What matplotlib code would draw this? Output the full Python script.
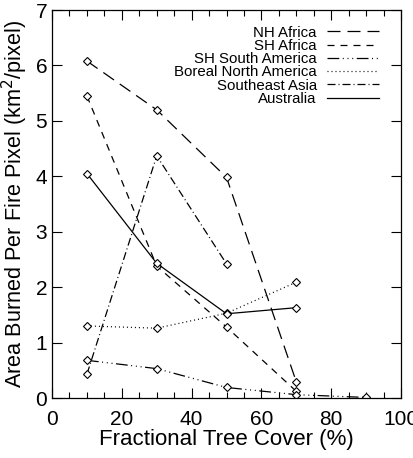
import matplotlib
matplotlib.use("Agg")
import matplotlib.pyplot as plt
from matplotlib.ticker import MultipleLocator
from matplotlib.transforms import ScaledTranslation

plt.rcParams['font.family'] = ['Liberation Sans', 'DejaVu Sans']

names = ["NH Africa", "SH Africa", "SH South America", "Boreal North America",
         "Southeast Asia", "Australia"]
x_nh = [10, 30, 50, 70]
y_nh = [6.08, 5.20, 3.98, 0.29]
x_sh = [10, 30, 50, 70]
y_sh = [5.45, 2.38, 1.28, 0.12]
x_sa = [10, 30, 50, 70, 90]
y_sa = [0.68, 0.53, 0.19, 0.06, 0.01]
x_bo = [10, 30, 50, 70]
y_bo = [1.30, 1.26, 1.53, 2.09]
x_se = [10, 30, 50]
y_se = [0.43, 4.37, 2.42]
x_au = [10, 30, 50, 70]
y_au = [4.05, 2.43, 1.52, 1.63]

styles = [(0, (10.4, 5.6)), (0, (5.6, 4.8)),
          (0, (9.4, 2.8, 0.8, 3.0, 0.8, 3.0, 0.8, 2.8)), (0, (0.8, 2.4)),
          (0, (6.4, 2.4, 0.8, 2.4)), '-']

fig = plt.figure(figsize=(4.13, 4.58), dpi=100)
ax = fig.add_axes([0.126, 0.131, 0.845, 0.847])

series = [(x_nh, y_nh), (x_sh, y_sh), (x_sa, y_sa), (x_bo, y_bo), (x_se, y_se), (x_au, y_au)]
for (xs, ys), name, ls in zip(series, names, styles):
    ax.plot(xs, ys, color='black', lw=0.9, linestyle=ls, label=name)
    ax.plot(xs, ys, linestyle='none', marker='D', ms=3.8, mfc='white', mec='black', mew=0.8)

ax.set_xlim(0, 100)
ax.set_ylim(0, 7)
ax.xaxis.set_major_locator(MultipleLocator(20))
ax.xaxis.set_minor_locator(MultipleLocator(5))
ax.yaxis.set_major_locator(MultipleLocator(1))
ax.tick_params(axis='both', which='both', direction='in', top=True, right=True, labelsize=15)
ax.tick_params(axis='x', which='major', pad=8.5)
ax.tick_params(which='major', length=7, width=0.8)
ax.tick_params(which='minor', length=4, width=0.8)
for s in ax.spines.values():
    s.set_linewidth(0.9)
ax.set_xlabel("Fractional Tree Cover (%)", fontsize=16, labelpad=0)
ax.set_ylabel("Area Burned Per Fire Pixel (km$^2$/pixel)", fontsize=15.6, labelpad=4)

leg = ax.legend(loc='upper right', frameon=False, fontsize=10.8, markerfirst=False,
                handlelength=3.5, handletextpad=0.67, labelspacing=-0.05,
                bbox_to_anchor=(0.938, 0.96), borderaxespad=0, borderpad=0)
for t in leg.get_texts():
    t.set_ha('right')

fig.canvas.draw()
lab = ax.get_xticklabels()[-1]
lab.set_transform(lab.get_transform() + ScaledTranslation(8 / 100, 0, fig.dpi_scale_trans))

fig.savefig("out.png", dpi=100)
